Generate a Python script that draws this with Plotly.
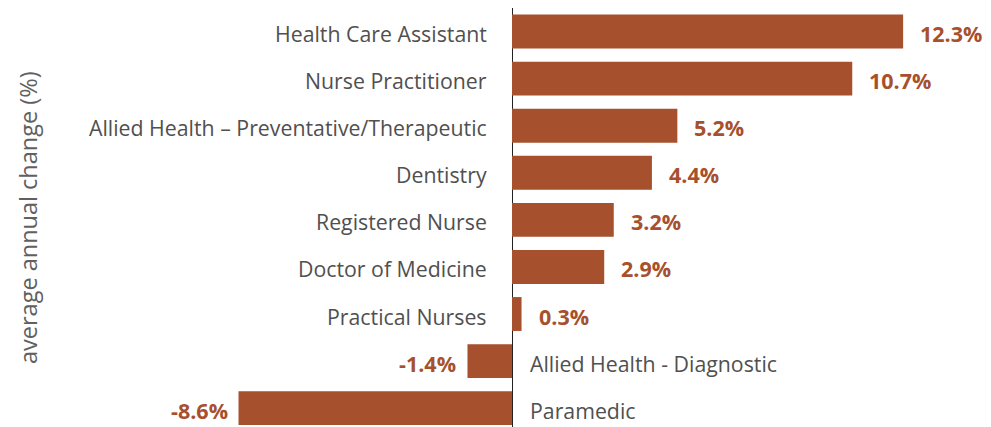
import plotly.graph_objects as go

categories = ["Health Care Assistant", "Nurse Practitioner",
              "Allied Health – Preventative/Therapeutic", "Dentistry",
              "Registered Nurse", "Doctor of Medicine", "Practical Nurses",
              "Allied Health - Diagnostic", "Paramedic"]
values = [12.3, 10.7, 5.2, 4.4, 3.2, 2.9, 0.3, -1.4, -8.6]
value_labels = ["12.3%", "10.7%", "5.2%", "4.4%", "3.2%", "2.9%", "0.3%", "-1.4%", "-8.6%"]

BAR = "#A7502D"
FONT = "Open Sans"
W, H = 991, 427
ZERO = 504
SCALE = 31.8

fig = go.Figure(go.Bar(
    x=values, y=list(range(len(categories))), orientation="h",
    marker=dict(color=BAR, line=dict(width=0)),
    hoverinfo="skip",
))

ann = []
for i, (c, v, t) in enumerate(zip(categories, values, value_labels)):
    pos = v >= 0
    ann.append(dict(x=0, y=i, xref="x", yref="y", text=c, showarrow=False,
                    xanchor="right" if pos else "left", xshift=-23 if pos else 16,
                    yshift=-2,
                    font=dict(family=FONT, size=21.3, color="#505050")))
    ann.append(dict(x=v, y=i, xref="x", yref="y", text="<b>" + t + "</b>", showarrow=False,
                    xanchor="left" if pos else "right", xshift=15 if pos else -9,
                    yshift=-2,
                    font=dict(family=FONT, size=21.5, color=BAR)))
ann.append(dict(x=20 / W, y=1 - 210 / H, xref="paper", yref="paper",
                text="average annual change (%)", showarrow=False, textangle=-90,
                xanchor="center", yanchor="middle",
                font=dict(family=FONT, size=23.5, color="#606060")))

fig.update_layout(
    width=W, height=H,
    margin=dict(l=0, r=0, t=0, b=0),
    paper_bgcolor="white", plot_bgcolor="white",
    bargap=0.28, showlegend=False,
    xaxis=dict(range=[-ZERO / SCALE, (W - ZERO) / SCALE], showticklabels=False, showgrid=False,
               zeroline=True, zerolinecolor="#222", zerolinewidth=1),
    yaxis=dict(range=[8.57, -0.5], showticklabels=False, showgrid=False, zeroline=False),
    annotations=ann,
)

fig.write_html("out.html")
